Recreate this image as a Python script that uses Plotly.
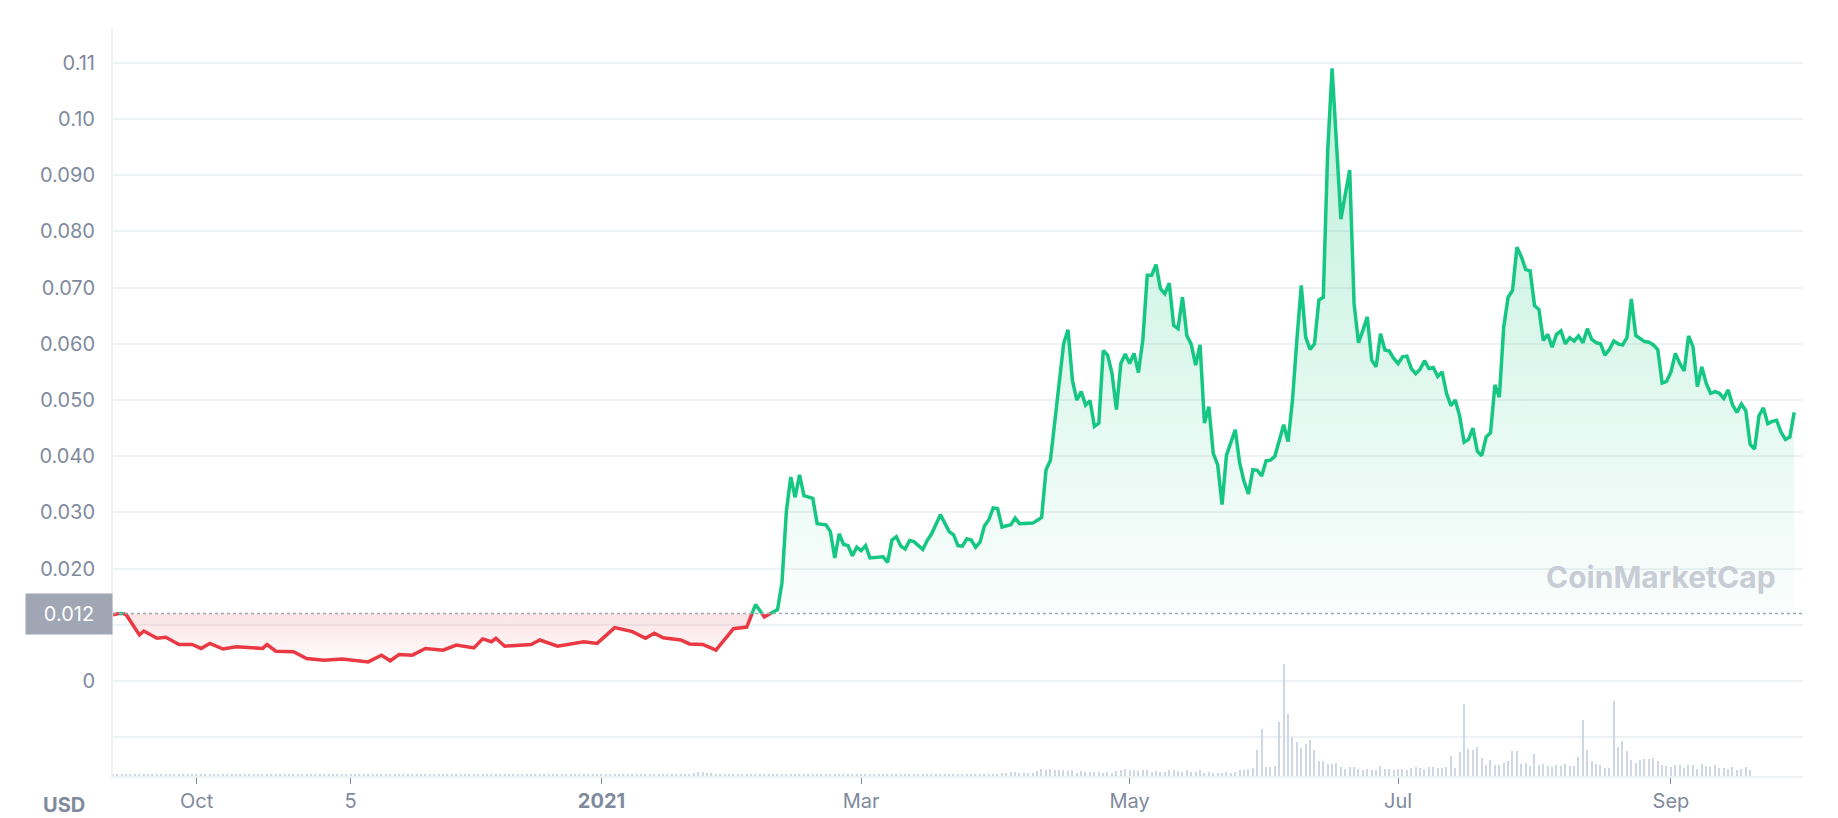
import pandas as pd
import plotly.graph_objects as go

# ---- price (USD) ----
price_dates = [
    "2020-09-12", "2020-09-14", "2020-09-15", "2020-09-18", "2020-09-19", "2020-09-22", "2020-09-24",
    "2020-09-27", "2020-09-30", "2020-10-02", "2020-10-04", "2020-10-07", "2020-10-10", "2020-10-16",
    "2020-10-17", "2020-10-19", "2020-10-23", "2020-10-26", "2020-10-30", "2020-11-03", "2020-11-06",
    "2020-11-09", "2020-11-12", "2020-11-14", "2020-11-16", "2020-11-19", "2020-11-22", "2020-11-26",
    "2020-11-29", "2020-12-03", "2020-12-05", "2020-12-07", "2020-12-08", "2020-12-10", "2020-12-16",
    "2020-12-18", "2020-12-22", "2020-12-28", "2020-12-31", "2021-01-04", "2021-01-08", "2021-01-11",
    "2021-01-13", "2021-01-15", "2021-01-19", "2021-01-21", "2021-01-24", "2021-01-27", "2021-01-29",
    "2021-01-31", "2021-02-03", "2021-02-05", "2021-02-07", "2021-02-10", "2021-02-11", "2021-02-12",
    "2021-02-13", "2021-02-14", "2021-02-15", "2021-02-16", "2021-02-18", "2021-02-19", "2021-02-21",
    "2021-02-22", "2021-02-23", "2021-02-24", "2021-02-25", "2021-02-26", "2021-02-27", "2021-02-28",
    "2021-03-01", "2021-03-02", "2021-03-03", "2021-03-06", "2021-03-07", "2021-03-08", "2021-03-09",
    "2021-03-10", "2021-03-11", "2021-03-12", "2021-03-13", "2021-03-15", "2021-03-16", "2021-03-17",
    "2021-03-19", "2021-03-21", "2021-03-22", "2021-03-23", "2021-03-24", "2021-03-25", "2021-03-26",
    "2021-03-27", "2021-03-28", "2021-03-29", "2021-03-30", "2021-03-31", "2021-04-01", "2021-04-02",
    "2021-04-04", "2021-04-05", "2021-04-06", "2021-04-09", "2021-04-11", "2021-04-12", "2021-04-13",
]
price_vals = [
    0.0118, 0.0121, 0.0118, 0.0082, 0.0089, 0.0076, 0.0078,
    0.0065, 0.0065, 0.0058, 0.0067, 0.0057, 0.0061, 0.0058,
    0.0065, 0.0053, 0.0052, 0.0040, 0.0037, 0.0039, 0.0036,
    0.0034, 0.0046, 0.0036, 0.0047, 0.0046, 0.0058, 0.0055,
    0.0064, 0.0059, 0.0075, 0.0070, 0.0076, 0.0062, 0.0065,
    0.0073, 0.0062, 0.0070, 0.0067, 0.0095, 0.0088, 0.0076,
    0.0085, 0.0077, 0.0073, 0.0066, 0.0065, 0.0055, 0.0074,
    0.0093, 0.0096, 0.0136, 0.0114, 0.0127, 0.0175, 0.0302,
    0.0363, 0.0327, 0.0367, 0.0330, 0.0325, 0.0280, 0.0278,
    0.0266, 0.0219, 0.0262, 0.0243, 0.0241, 0.0223, 0.0238,
    0.0232, 0.0241, 0.0219, 0.0221, 0.0211, 0.0251, 0.0257,
    0.0240, 0.0235, 0.0250, 0.0248, 0.0234, 0.0250, 0.0262,
    0.0296, 0.0266, 0.0260, 0.0241, 0.0240, 0.0253, 0.0251,
    0.0238, 0.0247, 0.0276, 0.0287, 0.0308, 0.0307, 0.0274,
    0.0278, 0.0290, 0.0280, 0.0281, 0.0291, 0.0376, 0.0393,
]
# daily from 2021-04-15 to 2021-09-29
daily_start = "2021-04-15"
daily_vals = [
    0.0530, 0.0600, 0.0625, 0.0535, 0.0500, 0.0515, 0.0491, 0.0499, 0.0453, 0.0459,
    0.0588, 0.0580, 0.0547, 0.0483, 0.0565, 0.0582, 0.0565, 0.0583, 0.0549, 0.0607,
    0.0722, 0.0722, 0.0741, 0.0698, 0.0689, 0.0708, 0.0633, 0.0627, 0.0683, 0.0615,
    0.0599, 0.0562, 0.0598, 0.0459, 0.0488, 0.0405, 0.0385, 0.0314, 0.0402, 0.0426,
    0.0447, 0.0388, 0.0355, 0.0333, 0.0376, 0.0375, 0.0365, 0.0392, 0.0393, 0.0400,
    0.0429, 0.0456, 0.0426, 0.0500, 0.0607, 0.0704, 0.0612, 0.0590, 0.0600, 0.0678,
    0.0683, 0.0943, 0.1090, 0.0955, 0.0822, 0.0866, 0.0909, 0.0671, 0.0602, 0.0624,
    0.0648, 0.0571, 0.0559, 0.0618, 0.0589, 0.0587, 0.0574, 0.0565, 0.0577, 0.0578,
    0.0556, 0.0547, 0.0555, 0.0570, 0.0556, 0.0558, 0.0542, 0.0550, 0.0512, 0.0490,
    0.0500, 0.0471, 0.0425, 0.0430, 0.0450, 0.0409, 0.0401, 0.0434, 0.0442, 0.0527,
    0.0505, 0.0630, 0.0683, 0.0695, 0.0772, 0.0755, 0.0732, 0.0730, 0.0668, 0.0661,
    0.0606, 0.0617, 0.0594, 0.0617, 0.0623, 0.0600, 0.0611, 0.0605, 0.0614, 0.0602,
    0.0627, 0.0608, 0.0602, 0.0600, 0.0580, 0.0590, 0.0605, 0.0600, 0.0598, 0.0611,
    0.0680, 0.0615, 0.0609, 0.0604, 0.0603, 0.0598, 0.0590, 0.0530, 0.0533, 0.0550,
    0.0583, 0.0565, 0.0552, 0.0614, 0.0595, 0.0524, 0.0559, 0.0530, 0.0512, 0.0515,
    0.0512, 0.0503, 0.0518, 0.0491, 0.0478, 0.0493, 0.0481, 0.0421, 0.0413, 0.0472,
    0.0486, 0.0458, 0.0462, 0.0464, 0.0443, 0.0430, 0.0434, 0.0478,
]

# ---- volume (relative) ----
vol_start = "2020-09-12"
vol_early = [
    0.012, 0.013, 0.012, 0.014, 0.012, 0.011, 0.013, 0.012, 0.012, 0.011, 0.013, 0.012, 0.012, 0.011, 0.012, 0.013, 0.012, 0.011, 0.012, 0.012,
    0.011, 0.012, 0.013, 0.012, 0.011, 0.012, 0.012, 0.013, 0.011, 0.012, 0.012, 0.011, 0.012, 0.013, 0.012, 0.011, 0.012, 0.012, 0.011, 0.012,
    0.013, 0.012, 0.011, 0.012, 0.012, 0.011, 0.012, 0.013, 0.012, 0.012, 0.011, 0.012, 0.012, 0.013, 0.012, 0.011, 0.012, 0.012, 0.011, 0.012,
    0.012, 0.013, 0.012, 0.011, 0.012, 0.012, 0.013, 0.012, 0.011, 0.012, 0.012, 0.011, 0.012, 0.013, 0.012, 0.012, 0.011, 0.012, 0.012, 0.013,
    0.012, 0.011, 0.012, 0.012, 0.011, 0.012, 0.013, 0.012, 0.011, 0.012, 0.012, 0.013, 0.012, 0.011, 0.012, 0.012, 0.011, 0.012, 0.013, 0.012,
    0.012, 0.013, 0.012, 0.014, 0.012, 0.013, 0.012, 0.012, 0.013, 0.012, 0.014, 0.012, 0.013, 0.012, 0.012, 0.013, 0.014, 0.012, 0.013, 0.012,
    0.013, 0.014, 0.013, 0.012, 0.013, 0.014, 0.013, 0.012, 0.014, 0.013, 0.015, 0.020, 0.030, 0.038, 0.032, 0.028, 0.025, 0.022, 0.020, 0.018,
    0.020, 0.018, 0.017, 0.016, 0.018, 0.017, 0.016, 0.015, 0.016, 0.017, 0.015, 0.016, 0.015, 0.017, 0.016, 0.015, 0.014, 0.016, 0.015, 0.016,
    0.015, 0.018, 0.016, 0.015, 0.014, 0.015, 0.016, 0.015, 0.016, 0.015, 0.014, 0.015, 0.016, 0.018, 0.016, 0.015, 0.016, 0.015, 0.016, 0.015,
    0.014, 0.015, 0.016, 0.015, 0.016, 0.015, 0.014, 0.015, 0.016, 0.015, 0.014,
]
vol_late = [
    # Apr
    0.012, 0.013, 0.015, 0.014, 0.015, 0.016, 0.015, 0.017, 0.016, 0.018, 0.020, 0.025, 0.030, 0.040, 0.035,
    0.030, 0.028, 0.025, 0.030, 0.045, 0.060, 0.050, 0.065, 0.055, 0.050, 0.052, 0.045, 0.050, 0.030, 0.045,
    # May
    0.040, 0.035, 0.035, 0.040, 0.030, 0.035, 0.030, 0.045, 0.050, 0.060, 0.050, 0.055, 0.045, 0.050, 0.050, 0.040,
    0.045, 0.040, 0.035, 0.050, 0.055, 0.045, 0.040, 0.050, 0.035, 0.040, 0.050, 0.030, 0.035, 0.030, 0.030,
    # Jun
    0.030, 0.035, 0.030, 0.040, 0.050, 0.055, 0.060, 0.070, 0.230, 0.420, 0.080, 0.080, 0.090, 0.480, 1.000,
    0.550, 0.350, 0.300, 0.250, 0.290, 0.320, 0.230, 0.130, 0.130, 0.110, 0.110, 0.120, 0.080, 0.060, 0.080,
    # Jul
    0.080, 0.060, 0.050, 0.060, 0.050, 0.050, 0.090, 0.060, 0.060, 0.050, 0.060, 0.060, 0.050, 0.070, 0.080, 0.070,
    0.060, 0.080, 0.080, 0.070, 0.070, 0.080, 0.180, 0.070, 0.210, 0.640, 0.240, 0.230, 0.260, 0.160, 0.100,
    # Aug
    0.140, 0.100, 0.100, 0.120, 0.130, 0.220, 0.220, 0.110, 0.120, 0.090, 0.200, 0.100, 0.110, 0.090, 0.080, 0.100,
    0.090, 0.110, 0.090, 0.090, 0.170, 0.500, 0.230, 0.130, 0.110, 0.100, 0.070, 0.070, 0.670, 0.260, 0.310,
    # Sep
    0.220, 0.140, 0.120, 0.140, 0.150, 0.150, 0.160, 0.130, 0.100, 0.090, 0.080, 0.100, 0.100, 0.070, 0.100,
    0.100, 0.060, 0.110, 0.090, 0.080, 0.100, 0.070, 0.070, 0.060, 0.080, 0.050, 0.060, 0.080, 0.050,
]

base_price = 0.012
tick_dates = ["2020-10-01", "2020-11-05", "2021-01-01", "2021-03-01", "2021-05-01", "2021-07-01", "2021-09-01"]
tick_text = ["Oct", "5", "<b>2021</b>", "Mar", "May", "Jul", "Sep"]
y_ticks = [-0.01, 0, 0.01, 0.02, 0.03, 0.04, 0.05, 0.06, 0.07, 0.08, 0.09, 0.10, 0.11]
y_labels = ["", "0", "", "0.020", "0.030", "0.040", "0.050", "0.060", "0.070", "0.080", "0.090", "0.10", "0.11"]

# assemble
dates = pd.to_datetime(price_dates).tolist() + list(pd.date_range(daily_start, periods=len(daily_vals)))
vals = price_vals + daily_vals
vol = vol_early + vol_late
vol_x = pd.date_range(vol_start, periods=len(vol))

# split the line at the 0.012 baseline
xs, ys = [dates[0]], [vals[0]]
for i in range(1, len(vals)):
    a, b = vals[i - 1], vals[i]
    if (a - base_price) * (b - base_price) < 0:
        t = (base_price - a) / (b - a)
        xs.append(dates[i - 1] + (dates[i] - dates[i - 1]) * t)
        ys.append(base_price)
    xs.append(dates[i])
    ys.append(b)
green = [y if y >= base_price else None for y in ys]
red = [y if y <= base_price else None for y in ys]

GREEN = "#16c784"
RED = "#ea3943"
GREY = "#808a9d"

fig = go.Figure()

fig.add_trace(go.Bar(
    x=vol_x, y=vol, yaxis="y2", marker_color="#cfd6e4", marker_line_width=0,
    width=1000 * 3600 * 7, hoverinfo="skip"
))

fig.add_trace(go.Scatter(x=xs, y=[base_price] * len(xs), mode="lines",
                         line=dict(width=0), hoverinfo="skip"))
fig.add_trace(go.Scatter(
    x=xs, y=green, mode="lines", line=dict(color=GREEN, width=3.5), fill="tonexty",
    fillgradient=dict(type="vertical", colorscale=[[0, "rgba(22,199,132,0.02)"], [1, "rgba(22,199,132,0.28)"]]),
))
fig.add_trace(go.Scatter(x=xs, y=[base_price] * len(xs), mode="lines",
                         line=dict(width=0), hoverinfo="skip"))
fig.add_trace(go.Scatter(
    x=xs, y=red, mode="lines", line=dict(color=RED, width=3.5), fill="tonexty",
    fillgradient=dict(type="vertical", colorscale=[[0, "rgba(234,57,67,0.02)"], [1, "rgba(234,57,67,0.14)"]]),
))

fig.add_hline(y=base_price, line=dict(color="#a0a7b5", width=1.5, dash="dot"))

fig.add_annotation(xref="paper", yref="y", x=0, y=base_price, xanchor="right", yanchor="middle",
                   text="0.012", showarrow=False, bgcolor="#a0a6b4", borderpad=8,
                   font=dict(color="white", size=20), width=70)
fig.add_annotation(xref="paper", yref="paper", x=0, y=-0.039, xanchor="right", yanchor="middle",
                   xshift=-26, text="<b>USD</b>", showarrow=False, font=dict(color=GREY, size=20))
fig.add_annotation(xref="paper", yref="y", x=0.985, y=0.0185, xanchor="right",
                   text="<b>CoinMarketCap</b>", showarrow=False,
                   font=dict(color="#c8ccd5", size=30, family="Inter"))

fig.update_layout(
    width=1838, height=818,
    margin=dict(l=105, r=43, t=20, b=50),
    plot_bgcolor="white", paper_bgcolor="white",
    showlegend=False,
    font=dict(family="Inter, Noto Sans, sans-serif", color=GREY, size=20),
    bargap=0,
    xaxis=dict(
        range=["2020-09-12", "2021-10-01"], tickvals=tick_dates, ticktext=tick_text,
        showgrid=False, ticks="outside", ticklen=6, tickcolor=GREY,
        showline=True, linecolor="#eff2f5", linewidth=2, zeroline=False,
    ),
    yaxis=dict(
        range=[-0.0169, 0.1162], tickvals=y_ticks, ticktext=y_labels,
        gridcolor="#eff2f5", gridwidth=2, zeroline=False,
        showline=True, linecolor="#eff2f5", linewidth=2, ticklabelstandoff=12,
    ),
    yaxis2=dict(overlaying="y", range=[0, 6.68], visible=False),
)

fig.write_html("out.html")
